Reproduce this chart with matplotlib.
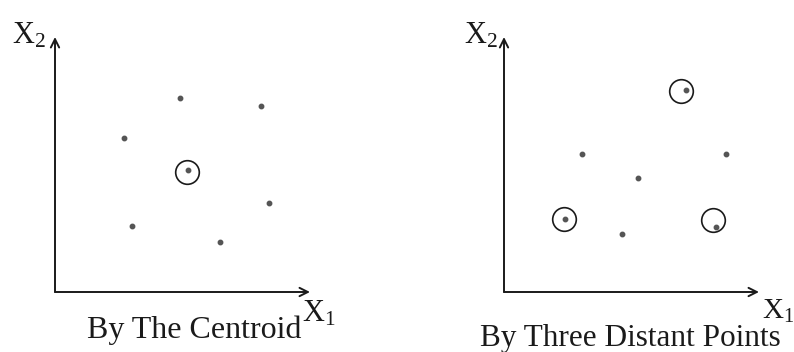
import matplotlib.pyplot as plt

plt.rcParams["font.family"] = "Liberation Serif"
plt.rcParams["mathtext.fontset"] = "custom"
plt.rcParams["mathtext.rm"] = "Liberation Serif"
plt.rcParams["mathtext.it"] = "Liberation Serif"

# sample points (same units on both axes, 0..10)
centroid_x = [4.90, 8.08, 2.71, 5.22, 8.39, 3.02, 6.47]
centroid_y = [7.61, 7.29, 6.04, 4.78, 3.49, 2.59, 1.96]
centroid_pick_x = [5.18]
centroid_pick_y = [4.71]

distant_x = [7.14, 3.06, 8.71, 5.25, 2.39, 8.31, 4.63]
distant_y = [7.92, 5.41, 5.41, 4.47, 2.86, 2.55, 2.27]
distant_pick_x = [6.94, 2.35, 8.20]
distant_pick_y = [7.88, 2.86, 2.82]

W, H = 794, 352
fig = plt.figure(figsize=(W / 100, H / 100), dpi=100)

ink = "#1a1a1a"
dot = "#555555"


def panel(left_px, xs, ys, pick_x, pick_y):
    ax = fig.add_axes([left_px / W, 60 / H, 255 / W, 255 / H])
    ax.set_xlim(0, 10)
    ax.set_ylim(0, 10)
    ax.axis("off")
    arrow = dict(arrowstyle="->", lw=1.4, color=ink, shrinkA=0, shrinkB=0,
                 mutation_scale=15)
    ax.annotate("", xy=(1.0, 0), xytext=(0, 0), xycoords="axes fraction",
                arrowprops=arrow)
    ax.annotate("", xy=(0, 1.0), xytext=(0, 0), xycoords="axes fraction",
                arrowprops=arrow)
    ax.plot(xs, ys, ls="none", marker="o", ms=3.2, color=dot, mec=dot)
    ax.plot(pick_x, pick_y, ls="none", marker="o", ms=17, mfc="none",
            mec=ink, mew=1.2)
    return ax


panel(55, centroid_x, centroid_y, centroid_pick_x, centroid_pick_y)
panel(504, distant_x, distant_y, distant_pick_x, distant_pick_y)


def label(x_px, y_px, s, **kw):
    fig.text(x_px / W, 1 - y_px / H, s, color=ink, **kw)


label(12, 43, r"X$_2$", fontsize=22, va="baseline")
label(464, 43, r"X$_2$", fontsize=22, va="baseline")
label(302, 321, r"X$_1$", fontsize=22, va="baseline")
label(762, 319, r"X$_1$", fontsize=21, va="baseline")

label(194, 338, "By The Centroid", fontsize=23, ha="center", va="baseline")
label(630, 346, "By Three Distant Points", fontsize=22.5, ha="center",
      va="baseline")

fig.savefig("out.png", dpi=100)
